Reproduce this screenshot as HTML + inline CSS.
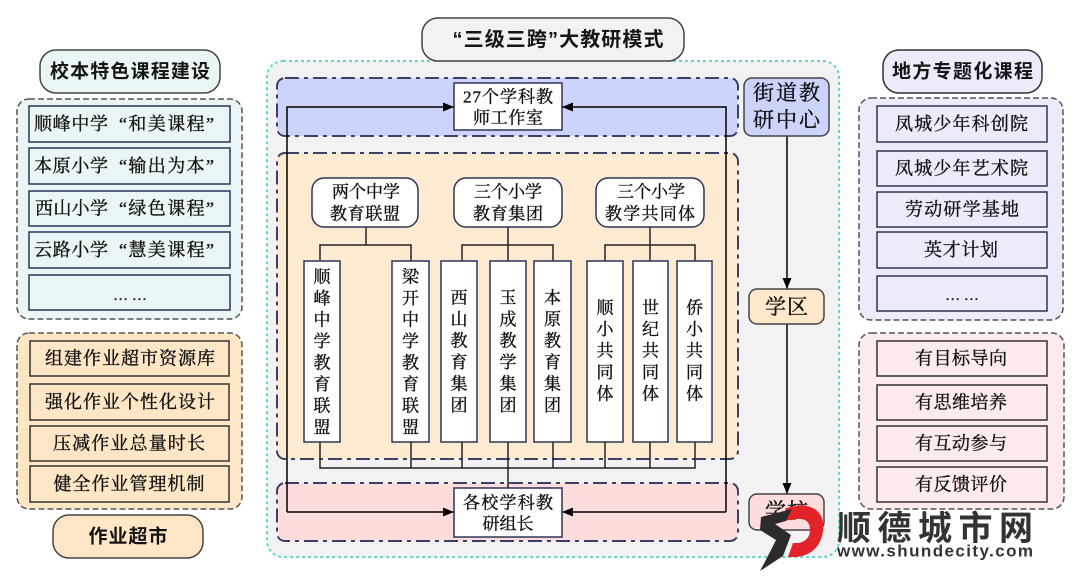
<!DOCTYPE html>
<html><head><meta charset="utf-8">
<style>
html,body{margin:0;padding:0;background:#fff;}
svg{display:block;}
.t{font-family:"Liberation Serif","Noto Serif CJK SC",serif;fill:#111;stroke:#111;stroke-width:0.35;}
.h{font-family:"Liberation Sans","Noto Sans CJK SC",sans-serif;font-weight:bold;fill:#151515;}
.box{stroke:#2f3458;stroke-width:1.5;}
.ln{stroke:#222;stroke-width:1.5;fill:none;}
</style></head><body>
<svg width="1080" height="578" viewBox="0 0 1080 578" xmlns="http://www.w3.org/2000/svg">
<defs>
<marker id="ar" markerWidth="11" markerHeight="9" refX="11" refY="4.5" orient="auto" markerUnits="userSpaceOnUse"><path d="M0,0 L11,4.5 L0,9 z" fill="#000"/></marker>
</defs>

<!-- ===== LEFT COLUMN ===== -->
<rect x="40" y="50" width="180" height="43" rx="16" fill="#e9f6f5" stroke="#444" stroke-width="1.5"/>
<text class="h" x="130" y="72" font-size="19" text-anchor="middle" dominant-baseline="central" textLength="160">校本特色课程建设</text>

<rect x="17" y="99" width="225" height="220" rx="12" fill="#e9f6f5" stroke="#555" stroke-width="1.5" stroke-dasharray="6 3"/>
<rect class="box" x="29" y="106" width="201" height="36" fill="#e9f6f5"/>
<rect class="box" x="29" y="148" width="201" height="36" fill="#e9f6f5"/>
<rect class="box" x="29" y="191" width="201" height="35" fill="#e9f6f5"/>
<rect class="box" x="29" y="232" width="201" height="36" fill="#e9f6f5"/>
<rect class="box" x="29" y="275" width="201" height="35" fill="#e9f6f5"/>
<text class="t" x="34" y="124" font-size="18" dominant-baseline="central" textLength="74">顺峰中学</text>
<text class="t" x="119" y="124" font-size="18" dominant-baseline="central" textLength="95">“和美课程”</text>
<text class="t" x="34" y="166" font-size="18" dominant-baseline="central" textLength="74">本原小学</text>
<text class="t" x="119" y="166" font-size="18" dominant-baseline="central" textLength="95">“输出为本”</text>
<text class="t" x="35" y="208.5" font-size="18" dominant-baseline="central" textLength="73">西山小学</text>
<text class="t" x="119" y="208.5" font-size="18" dominant-baseline="central" textLength="95">“绿色课程”</text>
<text class="t" x="34" y="250" font-size="18" dominant-baseline="central" textLength="74">云路小学</text>
<text class="t" x="119" y="250" font-size="18" dominant-baseline="central" textLength="95">“慧美课程”</text>
<text class="t" x="130" y="296" font-size="15" text-anchor="middle" dominant-baseline="central">… …</text>

<rect x="17" y="333" width="225" height="176" rx="12" fill="#fde6c6" stroke="#555" stroke-width="1.5" stroke-dasharray="6 3"/>
<rect class="box" x="30" y="341" width="199" height="35" fill="#fde6c6" style="stroke:#333"/>
<rect class="box" x="30" y="384" width="199" height="36" fill="#fde6c6" style="stroke:#333"/>
<rect class="box" x="30" y="426" width="199" height="35" fill="#fde6c6" style="stroke:#333"/>
<rect class="box" x="30" y="466" width="199" height="36" fill="#fde6c6" style="stroke:#333"/>
<text class="t" x="130" y="358.5" font-size="18" text-anchor="middle" dominant-baseline="central" textLength="170">组建作业超市资源库</text>
<text class="t" x="130" y="402" font-size="18" text-anchor="middle" dominant-baseline="central" textLength="170">强化作业个性化设计</text>
<text class="t" x="129" y="443.5" font-size="18" text-anchor="middle" dominant-baseline="central" textLength="152">压减作业总量时长</text>
<text class="t" x="129" y="484" font-size="18" text-anchor="middle" dominant-baseline="central" textLength="151">健全作业管理机制</text>

<rect x="53" y="515" width="150" height="43" rx="16" fill="#fde6c6" stroke="#444" stroke-width="1.5"/>
<text class="h" x="128" y="537" font-size="19" text-anchor="middle" dominant-baseline="central" textLength="79">作业超市</text>

<!-- ===== CENTER ===== -->
<rect x="267" y="61" width="572" height="496" rx="16" fill="#f2f2f2" stroke="#66d4c6" stroke-width="2" stroke-dasharray="3 3"/>
<rect x="422" y="18" width="262" height="43" rx="16" fill="#f2f2f2" stroke="#444" stroke-width="1.5"/>
<text class="h" x="558" y="40" font-size="20" text-anchor="middle" dominant-baseline="central" textLength="211">“三级三跨”大教研模式</text>

<rect x="277" y="78" width="461" height="58" rx="8" fill="#ccd4fb" stroke="#3c4066" stroke-width="2" stroke-dasharray="14 5 4 5"/>
<rect x="277" y="153" width="461" height="306" rx="8" fill="#fdebd1" stroke="#3c4066" stroke-width="2" stroke-dasharray="14 5 4 5"/>
<rect x="277" y="483" width="461" height="58" rx="8" fill="#fddcdc" stroke="#3c4066" stroke-width="2" stroke-dasharray="14 5 4 5"/>

<!-- loop connectors -->
<path class="ln" d="M287,512 L287,107 L454,107" marker-end="url(#ar)" style="stroke:#000"/>
<path class="ln" d="M287,512 L454,512" marker-end="url(#ar)" style="stroke:#000"/>
<path class="ln" d="M726,512 L726,107 L562,107" marker-end="url(#ar)" style="stroke:#000"/>
<path class="ln" d="M726,512 L562,512" marker-end="url(#ar)" style="stroke:#000"/>

<rect class="box" x="454" y="83" width="108" height="47" fill="#fff"/>
<text class="t" x="508" y="97" font-size="17" text-anchor="middle" dominant-baseline="central" textLength="90">27个学科教</text>
<text class="t" x="508" y="118" font-size="17" text-anchor="middle" dominant-baseline="central" textLength="70">师工作室</text>

<rect class="box" x="454" y="488" width="108" height="49" fill="#fff"/>
<text class="t" x="508" y="503" font-size="17" text-anchor="middle" dominant-baseline="central" textLength="90">各校学科教</text>
<text class="t" x="508" y="524" font-size="17" text-anchor="middle" dominant-baseline="central" textLength="51">研组长</text>

<!-- tree lines -->
<path class="ln" d="M366,227 L366,245 M320,261 L320,245 L411,245 L411,261"/>
<path class="ln" d="M508,227 L508,261 M462,261 L462,245 L553,245 L553,261"/>
<path class="ln" d="M650,227 L650,261 M605,261 L605,245 L695,245 L695,261"/>
<path class="ln" d="M320,442 L320,468 L695,468 L695,442 M411,442 L411,468 M462,442 L462,468 M553,442 L553,468 M605,442 L605,468 M650,442 L650,468 M508,442 L508,488"/>

<!-- headers -->
<rect class="box" x="312" y="178" width="106" height="49" rx="12" fill="#fff"/>
<text class="t" x="366" y="192" font-size="17" text-anchor="middle" dominant-baseline="central" textLength="68">两个中学</text>
<text class="t" x="365" y="214" font-size="17" text-anchor="middle" dominant-baseline="central" textLength="70">教育联盟</text>
<rect class="box" x="454" y="178" width="108" height="49" rx="12" fill="#fff"/>
<text class="t" x="508" y="192" font-size="17" text-anchor="middle" dominant-baseline="central" textLength="68">三个小学</text>
<text class="t" x="508" y="214" font-size="17" text-anchor="middle" dominant-baseline="central" textLength="70">教育集团</text>
<rect class="box" x="596" y="178" width="108" height="49" rx="12" fill="#fff"/>
<text class="t" x="651" y="192" font-size="17" text-anchor="middle" dominant-baseline="central" textLength="68">三个小学</text>
<text class="t" x="650" y="214" font-size="17" text-anchor="middle" dominant-baseline="central" textLength="90">教学共同体</text>

<!-- vertical boxes -->
<rect class="box" x="304" y="261" width="36" height="181" fill="#fff"/>
<rect class="box" x="392" y="261" width="37" height="181" fill="#fff"/>
<rect class="box" x="441" y="261" width="36" height="181" fill="#fff"/>
<rect class="box" x="490" y="261" width="36" height="181" fill="#fff"/>
<rect class="box" x="534" y="261" width="37" height="181" fill="#fff"/>
<rect class="box" x="587" y="261" width="36" height="181" fill="#fff"/>
<rect class="box" x="633" y="261" width="35" height="181" fill="#fff"/>
<rect class="box" x="677" y="261" width="35" height="181" fill="#fff"/>

<g class="t" font-size="17" text-anchor="middle" dominant-baseline="central">
<text x="322" y="277">顺</text><text x="322" y="298.5">峰</text><text x="322" y="320">中</text><text x="322" y="341.5">学</text><text x="322" y="363">教</text><text x="322" y="384.5">育</text><text x="322" y="406">联</text><text x="322" y="427.5">盟</text>
<text x="410.5" y="277">梁</text><text x="410.5" y="298.5">开</text><text x="410.5" y="320">中</text><text x="410.5" y="341.5">学</text><text x="410.5" y="363">教</text><text x="410.5" y="384.5">育</text><text x="410.5" y="406">联</text><text x="410.5" y="427.5">盟</text>
<text x="459" y="298">西</text><text x="459" y="319.5">山</text><text x="459" y="341">教</text><text x="459" y="362.5">育</text><text x="459" y="384">集</text><text x="459" y="405.5">团</text>
<text x="508" y="298">玉</text><text x="508" y="319.5">成</text><text x="508" y="341">教</text><text x="508" y="362.5">学</text><text x="508" y="384">集</text><text x="508" y="405.5">团</text>
<text x="552.5" y="298">本</text><text x="552.5" y="319.5">原</text><text x="552.5" y="341">教</text><text x="552.5" y="362.5">育</text><text x="552.5" y="384">集</text><text x="552.5" y="405.5">团</text>
<text x="605" y="308">顺</text><text x="605" y="329.5">小</text><text x="605" y="351">共</text><text x="605" y="372.5">同</text><text x="605" y="394">体</text>
<text x="650.5" y="308">世</text><text x="650.5" y="329.5">纪</text><text x="650.5" y="351">共</text><text x="650.5" y="372.5">同</text><text x="650.5" y="394">体</text>
<text x="694.5" y="308">侨</text><text x="694.5" y="329.5">小</text><text x="694.5" y="351">共</text><text x="694.5" y="372.5">同</text><text x="694.5" y="394">体</text>
</g>

<!-- right of center -->
<path class="ln" d="M787,136 L787,289" marker-end="url(#ar)" style="stroke:#000"/>
<path class="ln" d="M787,324 L787,494" marker-end="url(#ar)" style="stroke:#000"/>
<rect x="744" y="78" width="85" height="58" rx="8" fill="#ccd4fb" stroke="#444" stroke-width="1.5"/>
<text class="t" x="786.5" y="93" font-size="21" text-anchor="middle" dominant-baseline="central" textLength="67">街道教</text>
<text class="t" x="786.5" y="120" font-size="21" text-anchor="middle" dominant-baseline="central" textLength="67">研中心</text>
<rect x="749" y="289" width="75" height="35" rx="8" fill="#fde8cc" stroke="#444" stroke-width="1.5"/>
<text class="t" x="786.5" y="307" font-size="21" text-anchor="middle" dominant-baseline="central" textLength="43">学区</text>
<rect x="749" y="494" width="75" height="36" rx="8" fill="#fddcdc" stroke="#444" stroke-width="1.5"/>
<text class="t" x="786.5" y="511" font-size="21" text-anchor="middle" dominant-baseline="central" textLength="43">学校</text>

<!-- ===== RIGHT COLUMN ===== -->
<rect x="883" y="50" width="159" height="43" rx="16" fill="#ebebfa" stroke="#333" stroke-width="1.5"/>
<text class="h" x="962.5" y="72" font-size="19" text-anchor="middle" dominant-baseline="central" textLength="141">地方专题化课程</text>

<rect x="859" y="98" width="204" height="222" rx="12" fill="#ebebfa" stroke="#555" stroke-width="1.5" stroke-dasharray="6 3"/>
<rect class="box" x="877" y="106" width="170" height="36" fill="#ebebfa"/>
<rect class="box" x="877" y="151" width="170" height="35" fill="#ebebfa"/>
<rect class="box" x="877" y="192" width="170" height="35" fill="#ebebfa"/>
<rect class="box" x="877" y="232" width="170" height="36" fill="#ebebfa"/>
<rect class="box" x="877" y="276" width="170" height="35" fill="#ebebfa"/>
<text class="t" x="961.5" y="124" font-size="18" text-anchor="middle" dominant-baseline="central" textLength="133">凤城少年科创院</text>
<text class="t" x="961.5" y="168.5" font-size="18" text-anchor="middle" dominant-baseline="central" textLength="133">凤城少年艺术院</text>
<text class="t" x="962" y="209.5" font-size="18" text-anchor="middle" dominant-baseline="central" textLength="114">劳动研学基地</text>
<text class="t" x="961" y="250" font-size="18" text-anchor="middle" dominant-baseline="central" textLength="74">英才计划</text>
<text class="t" x="962" y="296" font-size="15" text-anchor="middle" dominant-baseline="central">… …</text>

<rect x="859" y="333" width="205" height="176" rx="12" fill="#fdeaea" stroke="#555" stroke-width="1.5" stroke-dasharray="6 3"/>
<rect class="box" x="877" y="341" width="170" height="35" fill="#fdeaea" style="stroke:#333"/>
<rect class="box" x="877" y="385" width="170" height="35" fill="#fdeaea" style="stroke:#333"/>
<rect class="box" x="877" y="426" width="170" height="35" fill="#fdeaea" style="stroke:#333"/>
<rect class="box" x="877" y="467" width="170" height="35" fill="#fdeaea" style="stroke:#333"/>
<text class="t" x="961" y="358.5" font-size="18" text-anchor="middle" dominant-baseline="central" textLength="92">有目标导向</text>
<text class="t" x="961" y="402.5" font-size="18" text-anchor="middle" dominant-baseline="central" textLength="92">有思维培养</text>
<text class="t" x="961" y="443.5" font-size="18" text-anchor="middle" dominant-baseline="central" textLength="92">有互动参与</text>
<text class="t" x="961" y="484.5" font-size="18" text-anchor="middle" dominant-baseline="central" textLength="92">有反馈评价</text>

<!-- ===== WATERMARK ===== -->
<path d="M786,508 L802,505 Q826,508 823,532 Q819,554 797,557 L788,557 L793,543 L799,543 Q810,540 810,530 Q810,518 797,519 L782,521 Z" fill="#e2232a"/>
<path d="M761,517 L792,509 L786,521 L775,524 L791,535 L783,556 L760,571 L770,552 L776,540 L760,530 Z" fill="#2b2b2b"/>
<text class="h" x="837" y="529" font-size="34" dominant-baseline="central" textLength="196" style="fill:#333">顺德城市网</text>
<text class="h" x="837" y="551" font-size="17" dominant-baseline="central" textLength="196" style="fill:#333">www.shundecity.com</text>
</svg>
</body></html>
